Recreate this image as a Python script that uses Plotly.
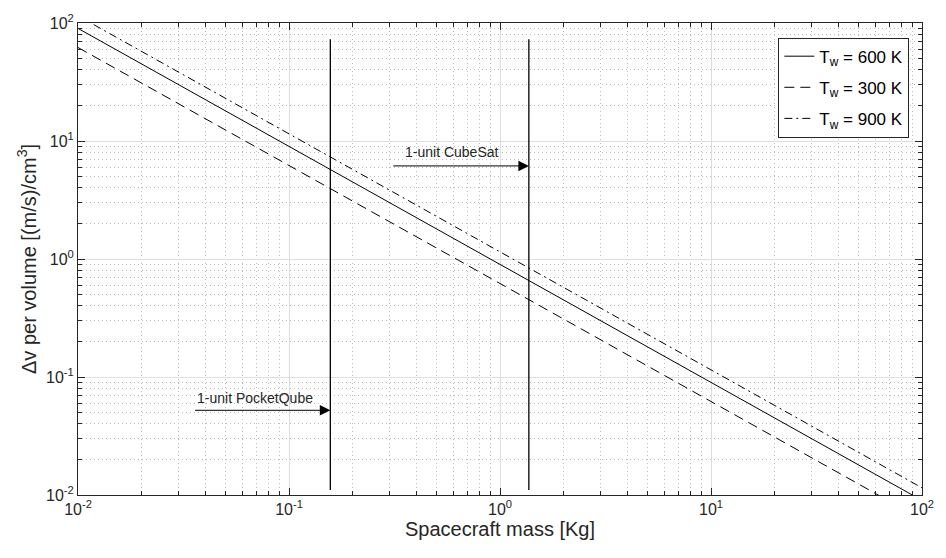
import math
import plotly.graph_objects as go

# ---- data ----
mass_ends = [0.01, 100.0]                  # x endpoints (kg)
dv_600K = [90.0, 0.0090]                   # Tw = 600 K
dv_300K = [62.0, 0.0062]                   # Tw = 300 K
dv_900K = [115.0, 0.0115]                  # Tw = 900 K

pocketqube_mass = 0.157
cubesat_mass = 1.37
marker_line_y = [0.011, 73.0]

decades = [0.01, 0.1, 1, 10, 100]
tick_text = ["10<sup>-2</sup>", "10<sup>-1</sup>", "10<sup>0</sup>", "10<sup>1</sup>", "10<sup>2</sup>"]
minor_digits = [2, 3, 4, 5, 6, 7, 8, 9]

labels = {"cubesat": "1-unit CubeSat", "pocketqube": "1-unit PocketQube"}
cubesat_arrow = {"tail_x": 0.307, "y": 6.15, "text_x": 0.594, "text_y": 8.1}
pocket_arrow = {"tail_x": 0.0353, "y": 0.0522, "text_x": 0.0687, "text_y": 0.067}

FONT = "Liberation Sans, Arial, Helvetica, sans-serif"
INK = "#262626"

minor_vals = [d * m for d in decades[:-1] for m in minor_digits]

fig = go.Figure()
series = [
    ("T<sub>w</sub> = 600 K", dv_600K, "solid"),
    ("T<sub>w</sub> = 300 K", dv_300K, "10px,6px"),
    ("T<sub>w</sub> = 900 K", dv_900K, "8px,4px,2px,4px"),
]
for i, (name, ys, dash) in enumerate(series):
    fig.add_trace(go.Scatter(
        x=mass_ends, y=ys, mode="lines", name=name, legendgroup=f"g{i}",
        line=dict(color="black", width=1, dash=dash),
    ))

for m in (pocketqube_mass, cubesat_mass):
    fig.add_trace(go.Scatter(
        x=[m, m], y=marker_line_y, mode="lines", showlegend=False,
        line=dict(color="black", width=1.3), hoverinfo="skip",
    ))

def add_arrow(tip_x, a, text):
    fig.add_annotation(
        x=math.log10(tip_x), y=math.log10(a["y"]), ax=math.log10(a["tail_x"]), ay=math.log10(a["y"]),
        xref="x", yref="y", axref="x", ayref="y", text="", showarrow=True,
        arrowhead=2, arrowsize=2.1, arrowwidth=1, arrowcolor="black",
    )
    fig.add_annotation(
        x=math.log10(a["text_x"]), y=math.log10(a["text_y"]), xref="x", yref="y",
        text=text, showarrow=False, font=dict(family=FONT, size=14, color=INK),
    )

add_arrow(cubesat_mass, cubesat_arrow, labels["cubesat"])
add_arrow(pocketqube_mass, pocket_arrow, labels["pocketqube"])

axis_common = dict(
    type="log", range=[-2, 2], tickmode="array", tickvals=decades, ticktext=tick_text,
    showline=True, linecolor=INK, linewidth=1, mirror="allticks",
    ticks="inside", ticklen=7, tickcolor=INK, showgrid=True, gridcolor="#dedede", gridwidth=1,
    tickfont=dict(family=FONT, size=16, color=INK), zeroline=False,
    minor=dict(tickmode="array", tickvals=minor_vals, ticks="inside", ticklen=4, tickcolor=INK,
               showgrid=True, gridcolor="#bdbdbd", griddash="1px,3px", gridwidth=1),
)
fig.update_xaxes(title=dict(text="Spacecraft mass [Kg]", font=dict(family=FONT, size=20, color=INK), standoff=4),
                 **axis_common)
fig.update_yaxes(title=dict(text="\u0394v per volume [(m/s)/cm<sup>3</sup>]", font=dict(family=FONT, size=20, color=INK), standoff=4),
                 **axis_common)

fig.update_layout(
    width=946, height=558, margin=dict(l=78, r=14, t=16, b=63),
    paper_bgcolor="white", plot_bgcolor="white",
    font=dict(family=FONT, color=INK),
    legend=dict(x=0.985, y=0.969, xanchor="right", yanchor="top",
                bgcolor="white", bordercolor=INK, borderwidth=1,
                font=dict(family=FONT, size=17, color="black"),
                tracegroupgap=6),
    showlegend=True,
)

fig.write_html("out.html")
